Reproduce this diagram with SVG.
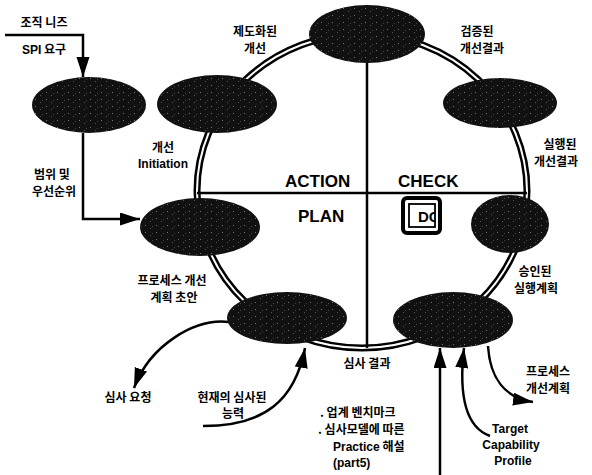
<svg xmlns="http://www.w3.org/2000/svg" width="592" height="475" viewBox="0 0 592 475">
<defs>
<style>
.ko{font-family:"Noto Sans CJK KR","Liberation Sans",sans-serif;font-weight:bold;font-size:12px;fill:#000}
.en{font-family:"Liberation Sans",Arial,sans-serif;font-weight:bold;font-size:12px;fill:#000}
.big{font-family:"Liberation Sans",Arial,sans-serif;font-weight:bold;font-size:17px;fill:#000}
.mid{text-anchor:middle}
.node{fill:#111}
.spk{fill:url(#speck)}
.conn{fill:none;stroke:#000;stroke-width:2.5}
</style>
<pattern id="speck" width="11" height="7" patternUnits="userSpaceOnUse">
<rect x="2" y="1" width="1" height="1" fill="#777"/>
<rect x="7" y="4" width="1" height="1" fill="#555"/>
<rect x="9" y="2" width="1" height="1" fill="#444"/>
</pattern>
<marker id="ah" markerWidth="22" markerHeight="14" refX="20" refY="6.5" orient="auto" markerUnits="userSpaceOnUse">
<path d="M0,0 L20,6.5 L0,13 Z" fill="#000"/>
</marker>
<clipPath id="doclip"><rect x="409" y="204" width="26" height="23"/></clipPath>
</defs>
<rect width="592" height="475" fill="#fff"/>

<g id="frame">
<ellipse cx="362" cy="191" rx="165" ry="157" fill="none" stroke="#000" stroke-width="7"/>
<ellipse cx="362" cy="191" rx="165" ry="157" fill="none" stroke="#fff" stroke-width="2"/>
<line x1="197" y1="193" x2="527" y2="193" stroke="#000" stroke-width="2.5"/>
<line x1="367" y1="60" x2="367" y2="348" stroke="#000" stroke-width="2.5"/>
<text class="big" x="285" y="187">ACTION</text>
<text class="big" x="398" y="187">CHECK</text>
<text class="big" x="298" y="222">PLAN</text>
</g>

<g id="do-box">
<rect x="403" y="198" width="37" height="35" rx="4" fill="#fff" stroke="#000" stroke-width="4"/>
<rect x="409" y="204" width="26" height="23" fill="#fff" stroke="#000" stroke-width="1.8"/>
<text x="418" y="222" clip-path="url(#doclip)" style="font-family:'Liberation Sans',Arial,sans-serif;font-weight:bold;font-size:15px">DO</text>
</g>

<g id="connectors">
<path class="conn" d="M5 35 H83 V77" marker-end="url(#ah)"/>
<path class="conn" d="M83 133 V219 H140" marker-end="url(#ah)"/>
<path class="conn" d="M229 322 C195 318 150 345 134 388" marker-end="url(#ah)"/>
<path class="conn" d="M203 426 C265 426 295 400 305 348" marker-end="url(#ah)"/>
<path class="conn" d="M440 475 V348" marker-end="url(#ah)"/>
<path class="conn" d="M490 436 C468 428 458 400 464 348" marker-end="url(#ah)"/>
<path class="conn" d="M488 346 C490 378 505 398 533 402" marker-end="url(#ah)"/>
</g>

<g id="n-org">
<ellipse class="node" cx="89" cy="105" rx="57" ry="28"/>
<ellipse class="spk" cx="89" cy="105" rx="57" ry="28"/>
</g>
<g id="n-topleft">
<ellipse class="node" cx="217" cy="104" rx="60" ry="29"/>
<ellipse class="spk" cx="217" cy="104" rx="60" ry="29"/>
</g>
<g id="n-top">
<ellipse class="node" cx="367" cy="34" rx="58" ry="29"/>
<ellipse class="spk" cx="367" cy="34" rx="58" ry="29"/>
</g>
<g id="n-topright">
<ellipse class="node" cx="500" cy="103" rx="57" ry="25"/>
<ellipse class="spk" cx="500" cy="103" rx="57" ry="25"/>
</g>
<g id="n-right">
<ellipse class="node" cx="510" cy="224" rx="39" ry="29"/>
<ellipse class="spk" cx="510" cy="224" rx="39" ry="29"/>
</g>
<g id="n-bottomright">
<ellipse class="node" cx="453" cy="320" rx="60" ry="28"/>
<ellipse class="spk" cx="453" cy="320" rx="60" ry="28"/>
</g>
<g id="n-bottomleft">
<ellipse class="node" cx="287" cy="318" rx="60" ry="26"/>
<ellipse class="spk" cx="287" cy="318" rx="60" ry="26"/>
</g>
<g id="n-left">
<ellipse class="node" cx="200" cy="227" rx="60" ry="29"/>
<ellipse class="spk" cx="200" cy="227" rx="60" ry="29"/>
</g>

<g id="labels">
<text class="ko mid" x="44" y="27">조직 니즈</text>
<text class="ko mid" x="44" y="54"><tspan class="en">SPI</tspan> 요구</text>
<text class="ko mid" x="52" y="179">범위 및</text>
<text class="ko mid" x="54" y="196">우선순위</text>
<text class="ko mid" x="163" y="152">개선</text>
<text class="en mid" x="163" y="168">Initiation</text>
<text class="ko mid" x="255" y="36">제도화된</text>
<text class="ko mid" x="255" y="53">개선</text>
<text class="ko mid" x="477" y="36">검증된</text>
<text class="ko mid" x="482" y="53">개선결과</text>
<text class="ko mid" x="560" y="149">실행된</text>
<text class="ko mid" x="556" y="166">개선결과</text>
<text class="ko mid" x="535" y="276">승인된</text>
<text class="ko mid" x="536" y="293">실행계획</text>
<text class="ko mid" x="172" y="285">프로세스 개선</text>
<text class="ko mid" x="174" y="302">계획 초안</text>
<text class="ko mid" x="367" y="368">심사 결과</text>
<text class="ko mid" x="128" y="402">심사 요청</text>
<text class="ko mid" x="232" y="402">현재의 심사된</text>
<text class="ko mid" x="233" y="418">능력</text>
<text class="ko" x="320" y="417">. 업계 벤치마크</text>
<text class="ko" x="318" y="434">. 심사모델에 따른</text>
<text class="ko" x="333" y="451"><tspan class="en">Practice</tspan> 해설</text>
<text class="en" x="333" y="467">(part5)</text>
<text class="ko mid" x="548" y="376">프로세스</text>
<text class="ko mid" x="548" y="393">개선계획</text>
<text class="en mid" x="510" y="433">Target</text>
<text class="en mid" x="511" y="449">Capability</text>
<text class="en mid" x="513" y="465">Profile</text>
</g>
</svg>
